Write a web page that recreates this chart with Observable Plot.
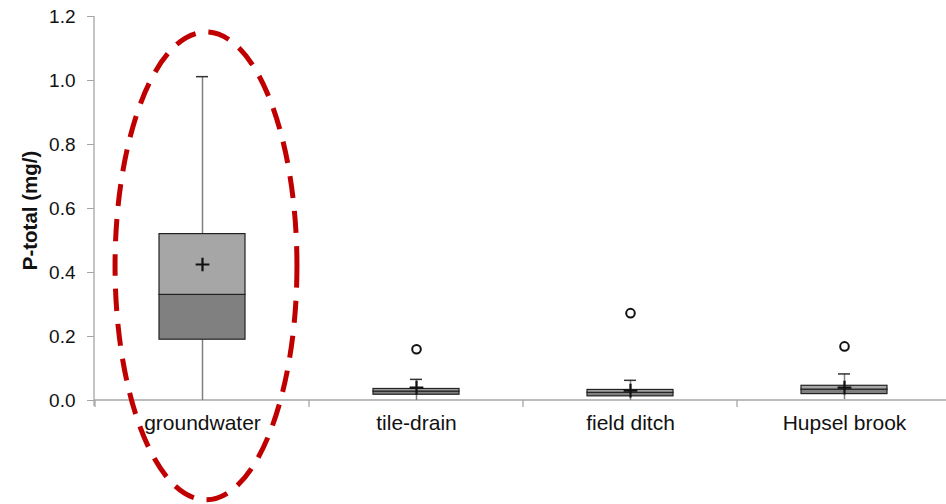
<!DOCTYPE html>
<html>
<head>
<meta charset="utf-8">
<script src="https://cdn.jsdelivr.net/npm/d3@7"></script>
<script src="https://cdn.jsdelivr.net/npm/@observablehq/plot@0.6"></script>
<style>
  html, body { margin: 0; padding: 0; background: #fff; }
  svg { display: block; }
</style>
</head>
<body>
<div id="chart"></div>
<script>
// ---- data ----
const categories = ["groundwater", "tile-drain", "field ditch", "Hupsel brook"];
const minValues    = [0.000, 0.000, 0.000, 0.003];
const q1Values     = [0.190, 0.018, 0.013, 0.020];
const medianValues = [0.330, 0.028, 0.024, 0.034];
const q3Values     = [0.520, 0.036, 0.033, 0.046];
const maxValues    = [1.012, 0.066, 0.063, 0.083];
const meanValues   = [0.425, 0.040, 0.031, 0.040];
const outlierCategories = ["tile-drain", "field ditch", "Hupsel brook"];
const outlierValues     = [0.160, 0.273, 0.169];
const yTicks = [0, 0.2, 0.4, 0.6, 0.8, 1.0, 1.2];
const yLabel = "P-total (mg/)";
// highlight ellipse around the groundwater box (centre value, vertical half-extent)
const highlightCategory = "groundwater";
const highlightCenter = 0.419;
const highlightHalfHeight = 0.731;

// ---- build tables ----
const boxes = categories.map((c, i) => ({
  cat: c, min: minValues[i], q1: q1Values[i], median: medianValues[i],
  q3: q3Values[i], max: maxValues[i], mean: meanValues[i]
}));
const outliers = outlierCategories.map((c, i) => ({cat: c, v: outlierValues[i]}));

const W = 946, H = 504;
const bandPx = 214;            // band width in pixels
const boxInset = (bandPx - 86) / 2;
const capInset = (bandPx - 12) / 2;
const font = "'Liberation Sans', Arial, sans-serif";

function bw(x) { return typeof x.bandwidth === "function" ? x.bandwidth() : bandPx; }

// custom axis lines + category separator ticks
const axisLines = (index, scales, values, dims) => {
  const x = scales.x, y = scales.y;
  const g = d3.create("svg:g").attr("stroke", "#a6a6a6").attr("stroke-width", 1.3).attr("fill", "none");
  const y0 = y(0), yTop = y(1.2);
  const left = dims.marginLeft;
  g.append("line").attr("x1", left).attr("x2", left).attr("y1", yTop).attr("y2", y0 + 6);
  g.append("line").attr("x1", left).attr("x2", dims.width).attr("y1", y0).attr("y2", y0);
  categories.forEach(c => {
    const xs = x(c);
    g.append("line").attr("x1", xs).attr("x2", xs).attr("y1", y0).attr("y2", y0 + 7);
  });
  return g.node();
};

// dashed highlight ellipse
const highlight = (index, scales) => {
  const x = scales.x, y = scales.y;
  const b = bw(x);
  const cx = x(highlightCategory) + b / 2 + 4;
  const cy = y(highlightCenter);
  const ry = Math.abs(y(highlightHalfHeight) - y(0));
  const rx = b * 0.425;
  return d3.create("svg:ellipse")
    .attr("cx", cx).attr("cy", cy).attr("rx", rx).attr("ry", ry)
    .attr("fill", "none").attr("stroke", "#c00000").attr("stroke-width", 5)
    .attr("stroke-dasharray", "22 13").node();
};

const chart = Plot.plot({
  width: W,
  height: H,
  marginLeft: 94,
  marginRight: 0,
  marginTop: 16,
  marginBottom: 104,
  style: {fontFamily: font, background: "#fff", overflow: "visible"},
  x: {domain: categories, range: [95, 951], padding: 0, axis: null},
  y: {domain: [0, 1.2], axis: null},
  marks: [
    axisLines,
    Plot.axisY({ticks: yTicks, tickFormat: d3.format(".1f"), tickSize: 7, tickPadding: 12,
      stroke: "#a6a6a6", fill: "#111", fontSize: 19, label: null}),
    Plot.axisX({tickSize: 0, tickPadding: 15, fill: "#111", fontSize: 21, label: null}),
    Plot.text([yLabel], {frameAnchor: "left", textAnchor: "middle", rotate: -90, dx: -64, dy: 2,
      fontWeight: "bold", fontSize: 20.5, fill: "#111"}),
    // whiskers
    Plot.ruleX(boxes, {x: "cat", y1: "q3", y2: "max", stroke: "#808080", strokeWidth: 1.5}),
    Plot.ruleX(boxes, {x: "cat", y1: "min", y2: "q1", stroke: "#808080", strokeWidth: 1.5}),
    Plot.tickY(boxes, {x: "cat", y: "max", stroke: "#333", strokeWidth: 1.5,
      insetLeft: capInset, insetRight: capInset}),
    // box halves
    Plot.barY(boxes, {x: "cat", y1: "q1", y2: "median", fill: "#808080", stroke: "#222",
      strokeWidth: 1.2, insetLeft: boxInset, insetRight: boxInset}),
    Plot.barY(boxes, {x: "cat", y1: "median", y2: "q3", fill: "#a6a6a6", stroke: "#222",
      strokeWidth: 1.2, insetLeft: boxInset, insetRight: boxInset}),
    // mean markers
    Plot.dot(boxes, {x: "cat", y: "mean", symbol: "plus", r: 4.5, stroke: "#111", strokeWidth: 2.2}),
    // outliers
    Plot.dot(outliers, {x: "cat", y: "v", r: 4.3, fill: "#fff", stroke: "#111", strokeWidth: 2}),
    highlight
  ]
});
document.getElementById("chart").appendChild(chart);
</script>
</body>
</html>
